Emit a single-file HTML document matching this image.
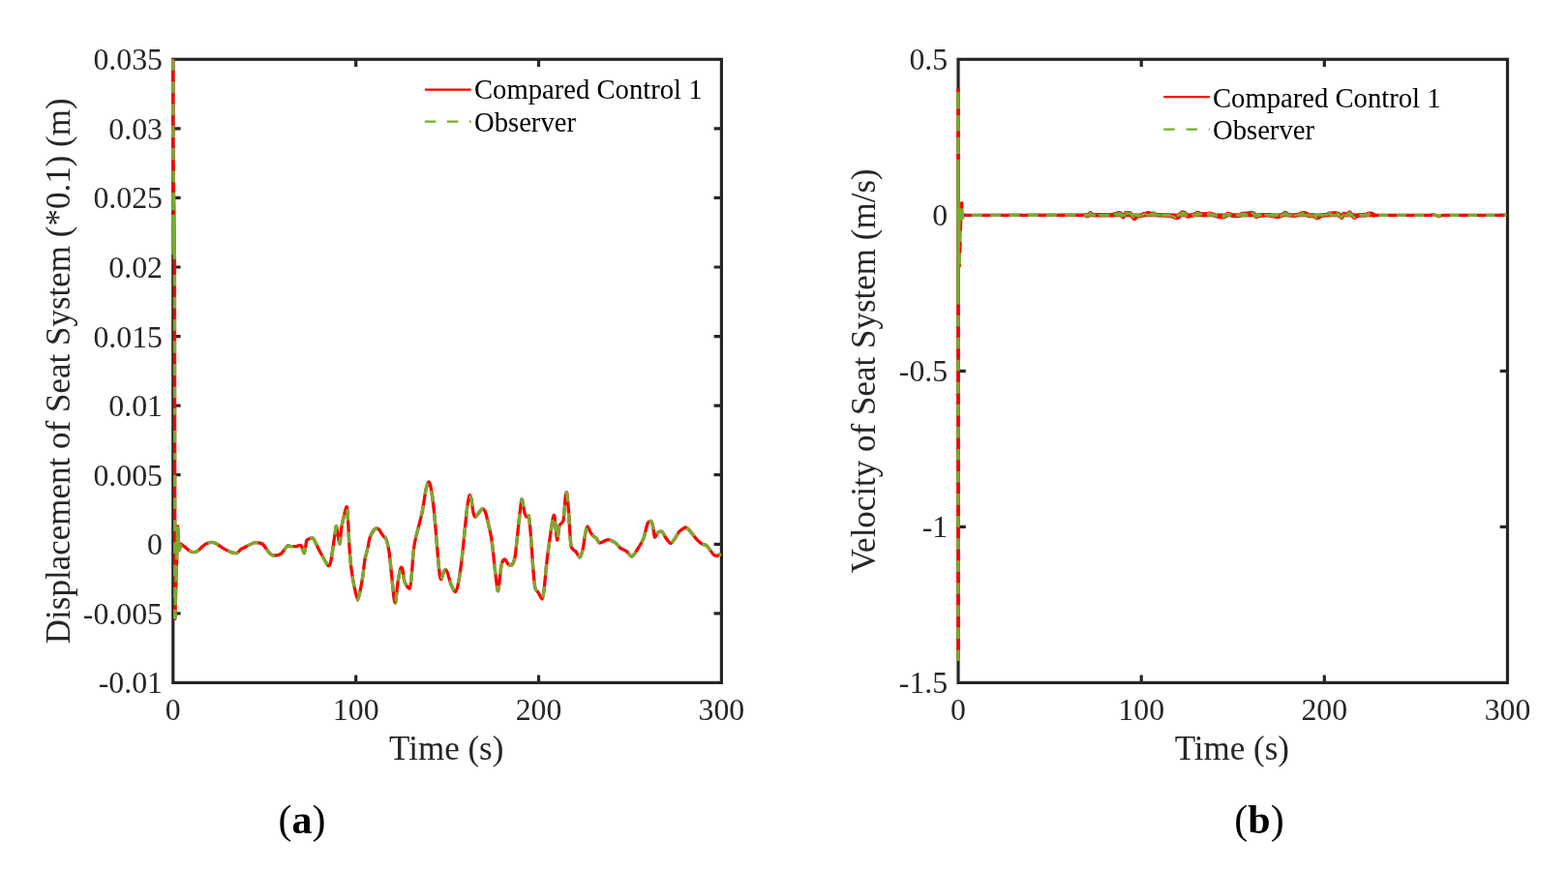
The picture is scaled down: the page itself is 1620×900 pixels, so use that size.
<!DOCTYPE html>
<html lang="en"><head><meta charset="utf-8"><title>Figure</title>
<style>
html,body{margin:0;padding:0;background:#fff;}
body{width:1620px;height:900px;overflow:hidden;}
svg{display:block;}
text{font-family:"Liberation Serif",serif;fill:#262626;}
.t{font-size:31.8px;}
.l{font-size:35px;}
.g{font-size:28.65px;fill:#000;}
.c{font-size:42px;fill:#000;}
</style></head><body>
<svg width="1620" height="900" viewBox="0 0 1620 900">
<rect width="1620" height="900" fill="#fff"/>
<g id="plot-a">
<rect x="178.8" y="61.3" width="566.5999999999999" height="644.1" fill="none" stroke="#262626" stroke-width="3.2"/>
<path d="M367.7 705.4v-7.8M367.7 61.3v7.8" stroke="#262626" stroke-width="3.2"/>
<path d="M556.5 705.4v-7.8M556.5 61.3v7.8" stroke="#262626" stroke-width="3.2"/>
<path d="M178.8 132.9h7.8M745.4 132.9h-7.8" stroke="#262626" stroke-width="3.2"/>
<path d="M178.8 204.4h7.8M745.4 204.4h-7.8" stroke="#262626" stroke-width="3.2"/>
<path d="M178.8 276.0h7.8M745.4 276.0h-7.8" stroke="#262626" stroke-width="3.2"/>
<path d="M178.8 347.6h7.8M745.4 347.6h-7.8" stroke="#262626" stroke-width="3.2"/>
<path d="M178.8 419.1h7.8M745.4 419.1h-7.8" stroke="#262626" stroke-width="3.2"/>
<path d="M178.8 490.7h7.8M745.4 490.7h-7.8" stroke="#262626" stroke-width="3.2"/>
<path d="M178.8 562.3h7.8M745.4 562.3h-7.8" stroke="#262626" stroke-width="3.2"/>
<path d="M178.8 633.8h7.8M745.4 633.8h-7.8" stroke="#262626" stroke-width="3.2"/>
<path d="M178.8 61 L178.8 150 L180.4 265 L180.8 639.4L180.8 639.4 L183.6 544 L185 568.7L185 568.7C185.2 568.0 186.8 563.1 187 562.4C187.2 561.7 186.7 562.2 187.0 562.4C187.3 562.6 188.9 563.6 190.0 564.4C191.1 565.2 194.8 568.7 196.0 569.4C197.2 570.1 199.1 570.6 200.0 570.6C200.9 570.6 202.6 570.4 204.0 569.4C205.4 568.4 210.4 563.4 212.0 562.4C213.6 561.4 216.7 560.5 218.0 560.4C219.3 560.3 221.4 560.8 223.0 561.6C224.6 562.4 230.1 566.4 232.0 567.4C233.9 568.4 237.5 570.1 239.0 570.6C240.5 571.1 243.8 571.8 245.0 571.4C246.2 571.0 248.2 568.0 249.0 567.4C249.8 566.8 250.5 566.7 252.0 566.0C253.5 565.3 260.1 561.6 262.0 561.0C263.9 560.4 266.8 560.8 268.0 561.0C269.2 561.2 270.7 561.7 272.0 563.0C273.3 564.3 277.7 570.7 279.0 572.0C280.3 573.3 281.7 574.0 283.0 574.0C284.3 574.0 288.4 573.6 290.0 572.4C291.6 571.2 295.8 564.9 297.0 564.0C298.2 563.1 298.9 564.5 300.0 564.6C301.1 564.7 304.7 564.7 306.0 564.6C307.3 564.5 310.0 562.8 311.0 563.6C312.0 564.4 313.7 572.1 314.4 571.6C315.1 571.1 316.2 560.7 316.6 559.0C317.0 557.3 317.2 557.7 318.0 557.4C318.8 557.1 322.2 555.0 323.6 556.4C325.0 557.8 328.2 565.7 330.0 569.0C331.8 572.3 337.6 583.2 339.0 584.4C340.4 585.6 341.2 582.8 342.0 579.0C342.8 575.2 345.3 556.1 346.0 552.0C346.7 547.9 347.0 542.8 347.6 544.0C348.2 545.2 350.4 562.0 351.0 562.0C351.6 562.0 352.2 548.5 353.0 544.0C353.8 539.5 357.2 524.3 358.0 523.6C358.8 522.9 359.2 533.1 359.6 538.0C360.0 542.9 360.6 560.2 361.0 566.0C361.4 571.8 362.4 583.3 363.0 588.0C363.6 592.7 365.2 602.3 366.0 606.0C366.8 609.7 368.8 620.0 369.6 620.0C370.4 620.0 372.4 609.0 373.0 606.0C373.6 603.0 374.5 597.3 375.0 594.0C375.5 590.7 376.4 581.3 377.0 578.0C377.6 574.7 379.4 568.6 380.0 566.0C380.6 563.4 381.2 558.2 382.0 556.0C382.8 553.8 385.9 548.1 387.0 547.0C388.1 545.9 389.9 545.8 391.0 546.6C392.1 547.4 395.1 552.8 396.0 554.0C396.9 555.2 398.3 555.1 399.0 557.0C399.7 558.9 401.3 565.2 402.0 570.0C402.7 574.8 404.4 592.4 405.0 598.0C405.6 603.6 406.6 615.2 407.0 618.0C407.4 620.8 408.1 624.3 408.6 622.4C409.1 620.5 410.4 606.0 411.0 602.0C411.6 598.0 413.1 589.8 413.6 588.0C414.1 586.2 415.1 585.5 415.6 587.0C416.1 588.5 417.1 598.5 418.0 601.0C418.9 603.5 422.2 608.8 423.0 608.4C423.8 608.0 424.5 602.2 425.0 598.0C425.5 593.8 426.5 576.7 427.0 572.0C427.5 567.3 427.9 562.9 429.0 558.0C430.1 553.1 434.7 536.1 436.0 530.0C437.3 523.9 439.2 509.7 440.0 506.0C440.8 502.3 442.3 498.0 443.0 498.0C443.7 498.0 444.9 501.8 445.6 506.0C446.3 510.2 448.3 526.5 449.0 534.0C449.7 541.5 451.4 562.9 452.0 570.0C452.6 577.1 453.9 591.7 454.4 595.0C454.9 598.3 455.6 598.8 456.0 598.4C456.4 598.0 457.5 593.2 458.0 592.0C458.5 590.8 459.5 588.4 460.0 588.4C460.5 588.4 461.7 590.2 462.4 592.0C463.1 593.8 465.0 601.7 466.0 604.0C467.0 606.3 469.7 612.1 470.6 611.6C471.5 611.1 473.1 604.9 474.0 600.0C474.9 595.1 477.1 578.2 478.0 570.0C478.9 561.8 481.2 536.8 482.0 530.0C482.8 523.2 484.4 513.6 485.0 512.0C485.6 510.4 486.5 513.9 487.0 516.0C487.5 518.1 488.5 527.9 489.0 530.0C489.5 532.1 490.5 534.4 491.4 534.0C492.3 533.6 496.0 527.9 497.0 527.0C498.0 526.1 499.4 526.0 500.0 526.6C500.6 527.2 501.5 528.3 502.4 532.0C503.3 535.7 506.9 550.8 508.0 558.0C509.1 565.2 511.2 587.9 512.0 594.0C512.8 600.1 513.9 611.8 514.6 610.6C515.3 609.4 517.2 587.8 518.0 584.0C518.8 580.2 520.8 578.1 521.6 578.0C522.4 577.9 524.2 582.3 525.0 583.0C525.8 583.7 527.8 584.8 528.6 584.0C529.4 583.2 531.1 581.1 532.0 576.0C532.9 570.9 535.2 547.0 536.0 540.0C536.8 533.0 538.3 517.2 539.0 516.0C539.7 514.8 541.4 527.9 542.0 530.0C542.6 532.1 543.5 533.6 544.0 534.0C544.5 534.4 545.9 531.0 546.4 533.6C546.9 536.2 548.1 549.4 548.6 556.0C549.1 562.6 550.5 583.9 551.0 590.0C551.5 596.1 552.4 605.4 553.0 608.0C553.6 610.6 555.2 610.7 556.0 612.0C556.8 613.3 559.3 619.2 560.0 619.0C560.7 618.8 561.4 614.5 562.0 610.0C562.6 605.5 564.2 587.0 565.0 580.0C565.8 573.0 568.2 555.4 569.0 550.0C569.8 544.6 571.1 535.9 571.6 534.0C572.1 532.1 572.5 531.2 573.0 534.0C573.5 536.8 575.0 557.0 575.6 558.0C576.2 559.0 577.3 545.3 578.0 543.0C578.7 540.7 581.3 541.1 582.0 538.0C582.7 534.9 583.6 519.4 584.0 516.0C584.4 512.6 585.2 507.4 585.6 509.0C586.0 510.6 587.1 523.6 587.6 530.0C588.1 536.4 589.1 559.3 590.0 564.0C590.9 568.7 594.0 568.6 595.0 570.0C596.0 571.4 598.2 576.2 599.0 576.0C599.8 575.8 601.3 571.0 602.0 568.0C602.7 565.0 604.4 552.8 605.0 550.0C605.6 547.2 606.4 544.0 607.0 544.0C607.6 544.0 609.3 548.8 610.0 550.0C610.7 551.2 612.3 553.3 613.0 554.0C613.7 554.7 615.2 555.2 616.0 556.0C616.8 556.8 618.2 560.8 619.6 561.0C621.0 561.2 626.1 557.6 628.0 557.6C629.9 557.6 634.5 560.0 636.0 561.0C637.5 562.0 639.7 565.4 641.0 566.4C642.3 567.4 645.6 568.4 647.0 569.4C648.4 570.4 651.6 575.3 653.0 575.0C654.4 574.7 657.6 569.2 659.0 567.0C660.4 564.8 663.8 559.0 665.0 556.0C666.2 553.0 668.1 543.1 669.0 541.0C669.9 538.9 671.8 538.2 672.4 538.4C673.0 538.6 673.9 541.1 674.4 543.0C674.9 544.9 675.8 554.1 676.4 555.0C677.0 555.9 678.7 551.1 679.6 550.4C680.5 549.7 683.0 548.7 684.0 549.4C685.0 550.1 687.0 554.6 688.0 556.0C689.0 557.4 692.0 561.5 693.0 561.6C694.0 561.7 696.0 558.5 697.0 557.0C698.0 555.5 700.7 550.4 702.0 549.0C703.3 547.6 707.2 545.2 708.4 545.0C709.6 544.8 710.6 546.1 712.0 547.6C713.4 549.1 718.4 555.9 720.0 557.6C721.6 559.3 724.8 561.7 726.0 562.4C727.2 563.1 728.6 562.3 730.0 563.6C731.4 564.9 736.2 572.4 737.6 573.6C739.0 574.8 741.1 574.1 742.0 574.0C742.9 573.9 744.6 572.6 745.0 572.4" fill="none" stroke="#ff0000" stroke-width="3.3" stroke-linejoin="round"/>
<path d="M178.9 199V217.2M178.9 221.7V263M178.80 61.2L178.80 72.8M178.80 84.3L178.80 95.9M178.80 107.5L178.80 119M178.80 129.7L178.80 142M178.84 153L179.01 165.3M179.17 176.4L179.33 188.3M179.48 199L179.73 217.2M179.80 221.7L180.40 267.9M180.42 283.9L180.43 295.4M180.44 307L180.46 318.6M180.47 330L180.48 341.7M180.49 352.3L180.51 364.8M180.52 376.3L180.53 387.9M180.54 399.4L180.56 411M180.57 421.7L180.58 428.8M180.59 444.8L180.61 457.2M180.62 467.9L180.62 475M180.64 491L180.65 502.7M180.67 514.2L180.68 525.8M180.69 537.3L180.70 549" fill="none" stroke="#77ac30" stroke-width="3.3"/>
<path d="M180.70 549L180.8 639.4" fill="none" stroke="#77ac30" stroke-width="3.3" stroke-dasharray="11.6 11.5" stroke-dashoffset="11.6"/>
<path d="M180.8 639.4L183.6 544" fill="none" stroke="#77ac30" stroke-width="3.3" stroke-dasharray="7 7 18 6 17 6 60"/>
<path d="M183.6 544L185 568.7L187 562.4" fill="none" stroke="#77ac30" stroke-width="3.3" stroke-linejoin="round"/>
<path d="M183.6 544 L185 568.7L185 568.7C185.2 568.0 186.8 563.1 187 562.4C187.2 561.7 186.7 562.2 187.0 562.4C187.3 562.6 188.9 563.6 190.0 564.4C191.1 565.2 194.8 568.7 196.0 569.4C197.2 570.1 199.1 570.6 200.0 570.6C200.9 570.6 202.6 570.4 204.0 569.4C205.4 568.4 210.4 563.4 212.0 562.4C213.6 561.4 216.7 560.5 218.0 560.4C219.3 560.3 221.4 560.8 223.0 561.6C224.6 562.4 230.1 566.4 232.0 567.4C233.9 568.4 237.5 570.1 239.0 570.6C240.5 571.1 243.8 571.8 245.0 571.4C246.2 571.0 248.2 568.0 249.0 567.4C249.8 566.8 250.5 566.7 252.0 566.0C253.5 565.3 260.1 561.6 262.0 561.0C263.9 560.4 266.8 560.8 268.0 561.0C269.2 561.2 270.7 561.7 272.0 563.0C273.3 564.3 277.7 570.7 279.0 572.0C280.3 573.3 281.7 574.0 283.0 574.0C284.3 574.0 288.4 573.6 290.0 572.4C291.6 571.2 295.8 564.9 297.0 564.0C298.2 563.1 298.9 564.5 300.0 564.6C301.1 564.7 304.7 564.7 306.0 564.6C307.3 564.5 310.0 562.8 311.0 563.6C312.0 564.4 313.7 572.1 314.4 571.6C315.1 571.1 316.2 560.7 316.6 559.0C317.0 557.3 317.2 557.7 318.0 557.4C318.8 557.1 322.2 555.0 323.6 556.4C325.0 557.8 328.2 565.7 330.0 569.0C331.8 572.3 337.6 583.2 339.0 584.4C340.4 585.6 341.2 582.8 342.0 579.0C342.8 575.2 345.3 556.1 346.0 552.0C346.7 547.9 347.0 542.8 347.6 544.0C348.2 545.2 350.4 562.0 351.0 562.0C351.6 562.0 352.2 548.5 353.0 544.0C353.8 539.5 357.2 524.3 358.0 523.6C358.8 522.9 359.2 533.1 359.6 538.0C360.0 542.9 360.6 560.2 361.0 566.0C361.4 571.8 362.4 583.3 363.0 588.0C363.6 592.7 365.2 602.3 366.0 606.0C366.8 609.7 368.8 620.0 369.6 620.0C370.4 620.0 372.4 609.0 373.0 606.0C373.6 603.0 374.5 597.3 375.0 594.0C375.5 590.7 376.4 581.3 377.0 578.0C377.6 574.7 379.4 568.6 380.0 566.0C380.6 563.4 381.2 558.2 382.0 556.0C382.8 553.8 385.9 548.1 387.0 547.0C388.1 545.9 389.9 545.8 391.0 546.6C392.1 547.4 395.1 552.8 396.0 554.0C396.9 555.2 398.3 555.1 399.0 557.0C399.7 558.9 401.3 565.2 402.0 570.0C402.7 574.8 404.4 592.4 405.0 598.0C405.6 603.6 406.6 615.2 407.0 618.0C407.4 620.8 408.1 624.3 408.6 622.4C409.1 620.5 410.4 606.0 411.0 602.0C411.6 598.0 413.1 589.8 413.6 588.0C414.1 586.2 415.1 585.5 415.6 587.0C416.1 588.5 417.1 598.5 418.0 601.0C418.9 603.5 422.2 608.8 423.0 608.4C423.8 608.0 424.5 602.2 425.0 598.0C425.5 593.8 426.5 576.7 427.0 572.0C427.5 567.3 427.9 562.9 429.0 558.0C430.1 553.1 434.7 536.1 436.0 530.0C437.3 523.9 439.2 509.7 440.0 506.0C440.8 502.3 442.3 498.0 443.0 498.0C443.7 498.0 444.9 501.8 445.6 506.0C446.3 510.2 448.3 526.5 449.0 534.0C449.7 541.5 451.4 562.9 452.0 570.0C452.6 577.1 453.9 591.7 454.4 595.0C454.9 598.3 455.6 598.8 456.0 598.4C456.4 598.0 457.5 593.2 458.0 592.0C458.5 590.8 459.5 588.4 460.0 588.4C460.5 588.4 461.7 590.2 462.4 592.0C463.1 593.8 465.0 601.7 466.0 604.0C467.0 606.3 469.7 612.1 470.6 611.6C471.5 611.1 473.1 604.9 474.0 600.0C474.9 595.1 477.1 578.2 478.0 570.0C478.9 561.8 481.2 536.8 482.0 530.0C482.8 523.2 484.4 513.6 485.0 512.0C485.6 510.4 486.5 513.9 487.0 516.0C487.5 518.1 488.5 527.9 489.0 530.0C489.5 532.1 490.5 534.4 491.4 534.0C492.3 533.6 496.0 527.9 497.0 527.0C498.0 526.1 499.4 526.0 500.0 526.6C500.6 527.2 501.5 528.3 502.4 532.0C503.3 535.7 506.9 550.8 508.0 558.0C509.1 565.2 511.2 587.9 512.0 594.0C512.8 600.1 513.9 611.8 514.6 610.6C515.3 609.4 517.2 587.8 518.0 584.0C518.8 580.2 520.8 578.1 521.6 578.0C522.4 577.9 524.2 582.3 525.0 583.0C525.8 583.7 527.8 584.8 528.6 584.0C529.4 583.2 531.1 581.1 532.0 576.0C532.9 570.9 535.2 547.0 536.0 540.0C536.8 533.0 538.3 517.2 539.0 516.0C539.7 514.8 541.4 527.9 542.0 530.0C542.6 532.1 543.5 533.6 544.0 534.0C544.5 534.4 545.9 531.0 546.4 533.6C546.9 536.2 548.1 549.4 548.6 556.0C549.1 562.6 550.5 583.9 551.0 590.0C551.5 596.1 552.4 605.4 553.0 608.0C553.6 610.6 555.2 610.7 556.0 612.0C556.8 613.3 559.3 619.2 560.0 619.0C560.7 618.8 561.4 614.5 562.0 610.0C562.6 605.5 564.2 587.0 565.0 580.0C565.8 573.0 568.2 555.4 569.0 550.0C569.8 544.6 571.1 535.9 571.6 534.0C572.1 532.1 572.5 531.2 573.0 534.0C573.5 536.8 575.0 557.0 575.6 558.0C576.2 559.0 577.3 545.3 578.0 543.0C578.7 540.7 581.3 541.1 582.0 538.0C582.7 534.9 583.6 519.4 584.0 516.0C584.4 512.6 585.2 507.4 585.6 509.0C586.0 510.6 587.1 523.6 587.6 530.0C588.1 536.4 589.1 559.3 590.0 564.0C590.9 568.7 594.0 568.6 595.0 570.0C596.0 571.4 598.2 576.2 599.0 576.0C599.8 575.8 601.3 571.0 602.0 568.0C602.7 565.0 604.4 552.8 605.0 550.0C605.6 547.2 606.4 544.0 607.0 544.0C607.6 544.0 609.3 548.8 610.0 550.0C610.7 551.2 612.3 553.3 613.0 554.0C613.7 554.7 615.2 555.2 616.0 556.0C616.8 556.8 618.2 560.8 619.6 561.0C621.0 561.2 626.1 557.6 628.0 557.6C629.9 557.6 634.5 560.0 636.0 561.0C637.5 562.0 639.7 565.4 641.0 566.4C642.3 567.4 645.6 568.4 647.0 569.4C648.4 570.4 651.6 575.3 653.0 575.0C654.4 574.7 657.6 569.2 659.0 567.0C660.4 564.8 663.8 559.0 665.0 556.0C666.2 553.0 668.1 543.1 669.0 541.0C669.9 538.9 671.8 538.2 672.4 538.4C673.0 538.6 673.9 541.1 674.4 543.0C674.9 544.9 675.8 554.1 676.4 555.0C677.0 555.9 678.7 551.1 679.6 550.4C680.5 549.7 683.0 548.7 684.0 549.4C685.0 550.1 687.0 554.6 688.0 556.0C689.0 557.4 692.0 561.5 693.0 561.6C694.0 561.7 696.0 558.5 697.0 557.0C698.0 555.5 700.7 550.4 702.0 549.0C703.3 547.6 707.2 545.2 708.4 545.0C709.6 544.8 710.6 546.1 712.0 547.6C713.4 549.1 718.4 555.9 720.0 557.6C721.6 559.3 724.8 561.7 726.0 562.4C727.2 563.1 728.6 562.3 730.0 563.6C731.4 564.9 736.2 572.4 737.6 573.6C739.0 574.8 741.1 574.1 742.0 574.0C742.9 573.9 744.6 572.6 745.0 572.4" fill="none" stroke="#77ac30" stroke-width="3.3" stroke-linejoin="round" stroke-dasharray="11.6 11.5" stroke-dashoffset="3.95"/>
<text class="t" x="168" y="72.3" text-anchor="end">0.035</text>
<text class="t" x="168" y="143.9" text-anchor="end">0.03</text>
<text class="t" x="168" y="215.4" text-anchor="end">0.025</text>
<text class="t" x="168" y="287.0" text-anchor="end">0.02</text>
<text class="t" x="168" y="358.6" text-anchor="end">0.015</text>
<text class="t" x="168" y="430.1" text-anchor="end">0.01</text>
<text class="t" x="168" y="501.7" text-anchor="end">0.005</text>
<text class="t" x="168" y="573.3" text-anchor="end">0</text>
<text class="t" x="168" y="644.8" text-anchor="end">-0.005</text>
<text class="t" x="168" y="716.4" text-anchor="end">-0.01</text>
<text class="t" x="178.8" y="744.4" text-anchor="middle">0</text>
<text class="t" x="367.7" y="744.4" text-anchor="middle">100</text>
<text class="t" x="556.5" y="744.4" text-anchor="middle">200</text>
<text class="t" x="745.4" y="744.4" text-anchor="middle">300</text>
<text class="l" x="461.2" y="784.8" text-anchor="middle">Time (s)</text>
<text class="l" transform="translate(72.2 383.3) rotate(-90)" text-anchor="middle">Displacement of Seat System (*0.1) (m)</text>
<path d="M438.9 92.7H486.7" stroke="#ff0000" stroke-width="2.3"/>
<path d="M438.9 125.6H486.7" stroke="#77ac30" stroke-width="2.3" stroke-dasharray="11.4 11.6"/>
<text class="g" x="490" y="102.2">Compared Control 1</text>
<text class="g" x="490" y="135.5">Observer</text>
<text class="c" x="312" y="861.3" text-anchor="middle">(<tspan font-weight="bold">a</tspan>)</text>
</g>
<g id="plot-b">
<rect x="990" y="61.3" width="567.5" height="644.1" fill="none" stroke="#262626" stroke-width="3.2"/>
<path d="M1179.2 705.4v-7.8M1179.2 61.3v7.8" stroke="#262626" stroke-width="3.2"/>
<path d="M1368.3 705.4v-7.8M1368.3 61.3v7.8" stroke="#262626" stroke-width="3.2"/>
<path d="M990 222.3h7.8M1557.5 222.3h-7.8" stroke="#262626" stroke-width="3.2"/>
<path d="M990 383.4h7.8M1557.5 383.4h-7.8" stroke="#262626" stroke-width="3.2"/>
<path d="M990 544.4h7.8M1557.5 544.4h-7.8" stroke="#262626" stroke-width="3.2"/>
<path d="M990 91.5V683" stroke="#ff0000" stroke-width="3.4"/>
<path d="M993.7 216V209.6" stroke="#ff0000" stroke-width="3.3" stroke-linecap="round"/>
<path d="M996.5 222.3 L1121.1 222.2L1121.1 222.2C1121.4 222.3 1123.1 223.4 1123.7 223.2C1124.3 223.0 1126.2 220.3 1126.7 220.2C1127.2 220.1 1127.7 221.7 1128.5 221.9C1129.3 222.1 1132.7 222.2 1134.4 222.2C1136.1 222.2 1144.0 222.2 1145.6 222.2C1147.2 222.2 1149.4 222.1 1150.4 221.9C1151.4 221.7 1155.1 220.3 1155.9 220.2C1156.7 220.1 1157.6 220.6 1158.1 221.0C1158.5 221.4 1159.9 224.4 1160.4 224.3C1160.9 224.2 1162.8 220.2 1163.3 219.9C1163.8 219.6 1164.8 221.0 1165.2 221.0C1165.6 221.0 1166.6 220.0 1167.0 220.2C1167.4 220.4 1168.8 222.2 1169.3 222.8C1169.8 223.4 1171.4 226.1 1171.9 226.2C1172.4 226.3 1173.9 223.9 1174.4 223.6C1174.9 223.3 1176.2 223.3 1176.7 223.2C1177.2 223.1 1179.1 223.0 1179.6 222.8C1180.1 222.6 1181.5 221.2 1181.9 221.0C1182.4 220.8 1183.7 221.4 1184.1 221.3C1184.5 221.2 1185.9 219.9 1186.3 219.9C1186.7 219.9 1188.0 220.9 1188.5 221.0C1189.0 221.1 1191.0 220.5 1191.5 220.6C1192.0 220.7 1193.2 221.5 1193.7 221.7C1194.2 221.9 1195.6 222.1 1196.7 222.2C1197.8 222.3 1203.6 222.3 1204.8 222.4C1206.0 222.5 1207.8 222.5 1208.5 222.7C1209.2 222.8 1211.5 223.7 1212.2 223.9C1212.9 224.1 1214.6 225.0 1215.2 225.0C1215.8 225.0 1217.7 224.3 1218.1 223.9C1218.5 223.5 1219.2 221.4 1219.6 221.0C1220.0 220.6 1221.4 219.5 1221.9 219.5C1222.4 219.5 1224.3 220.6 1224.8 221.0C1225.3 221.4 1226.5 223.4 1227.0 223.6C1227.5 223.8 1229.3 223.0 1230.0 222.8C1230.7 222.6 1233.0 222.0 1233.7 221.7C1234.4 221.4 1236.7 220.0 1237.4 219.9C1238.1 219.8 1239.7 220.8 1240.4 221.0C1241.1 221.2 1243.8 221.5 1244.8 221.5C1245.8 221.5 1249.1 220.6 1250.0 220.6C1250.9 220.6 1253.0 221.6 1253.7 221.9C1254.4 222.2 1255.7 222.9 1256.7 223.2C1257.7 223.4 1262.3 224.4 1263.3 224.4C1264.3 224.4 1265.8 223.5 1266.3 223.2C1266.8 222.9 1268.0 221.2 1268.5 221.0C1269.0 220.8 1271.0 221.5 1271.5 221.7C1272.0 221.9 1272.7 222.6 1273.7 222.7C1274.7 222.8 1280.1 222.9 1281.1 222.7C1282.1 222.5 1282.5 221.2 1283.3 221.0C1284.1 220.8 1288.3 220.7 1289.3 220.6C1290.3 220.5 1292.3 219.8 1293.0 219.9C1293.7 220.0 1295.4 220.9 1295.9 221.3C1296.4 221.7 1297.6 223.8 1298.1 223.9C1298.5 224.0 1299.5 222.9 1300.4 222.7C1301.3 222.5 1306.0 222.2 1307.0 222.1C1308.0 222.0 1309.3 222.1 1310.0 222.2C1310.7 222.3 1312.7 222.6 1313.7 222.8C1314.7 223.0 1319.3 223.9 1320.4 223.9C1321.5 223.9 1324.1 222.8 1324.8 222.4C1325.5 222.0 1327.3 220.0 1327.8 219.9C1328.3 219.8 1329.4 221.4 1330.0 221.7C1330.6 221.9 1332.7 222.3 1333.7 222.4C1334.7 222.5 1338.7 222.5 1339.6 222.4C1340.5 222.3 1341.9 221.5 1342.6 221.3C1343.3 221.1 1345.6 220.2 1346.3 220.2C1347.0 220.2 1349.4 220.7 1350.0 221.0C1350.6 221.3 1351.6 223.1 1352.2 223.2C1352.8 223.3 1355.3 222.4 1355.9 222.4C1356.5 222.4 1357.6 223.3 1358.1 223.6C1358.6 223.9 1360.5 225.4 1361.1 225.4C1361.7 225.4 1363.4 223.5 1364.1 223.2C1364.8 222.9 1367.1 222.6 1367.8 222.4C1368.5 222.2 1370.9 221.9 1371.5 221.7C1372.1 221.5 1372.6 220.7 1373.7 220.6C1374.8 220.5 1381.5 220.4 1382.6 220.7C1383.7 221.0 1384.0 223.2 1384.4 223.6C1384.8 224.0 1385.9 225.0 1386.3 224.7C1386.7 224.4 1387.6 221.3 1388.1 221.0C1388.6 220.7 1390.9 222.2 1391.5 222.1C1392.1 221.9 1393.9 219.5 1394.4 219.5C1394.9 219.5 1396.2 221.6 1396.7 222.1C1397.2 222.6 1398.4 224.6 1398.9 224.7C1399.4 224.8 1401.3 223.4 1401.9 223.2C1402.5 223.0 1403.9 222.5 1404.8 222.4C1405.7 222.3 1409.9 222.5 1410.7 222.4C1411.5 222.3 1412.4 221.2 1413.0 221.0C1413.6 220.8 1416.0 220.6 1416.7 220.7C1417.4 220.8 1419.3 222.2 1419.6 222.4L1419.6 222.4 L1478 222.3 L1481 221.6 L1487 223.6 L1491 222.3 L1556.5 222.3" fill="none" stroke="#ff0000" stroke-width="3.3" stroke-linejoin="round"/>
<path d="M1121.1 222.3H1419.6" fill="none" stroke="#ff0000" stroke-width="3.7"/>
<path d="M1121.1 222.2C1121.4 222.3 1123.1 223.4 1123.7 223.2C1124.3 223.0 1126.2 220.3 1126.7 220.2C1127.2 220.1 1127.7 221.7 1128.5 221.9C1129.3 222.1 1132.7 222.2 1134.4 222.2C1136.1 222.2 1144.0 222.2 1145.6 222.2C1147.2 222.2 1149.4 222.1 1150.4 221.9C1151.4 221.7 1155.1 220.3 1155.9 220.2C1156.7 220.1 1157.6 220.6 1158.1 221.0C1158.5 221.4 1159.9 224.4 1160.4 224.3C1160.9 224.2 1162.8 220.2 1163.3 219.9C1163.8 219.6 1164.8 221.0 1165.2 221.0C1165.6 221.0 1166.6 220.0 1167.0 220.2C1167.4 220.4 1168.8 222.2 1169.3 222.8C1169.8 223.4 1171.4 226.1 1171.9 226.2C1172.4 226.3 1173.9 223.9 1174.4 223.6C1174.9 223.3 1176.2 223.3 1176.7 223.2C1177.2 223.1 1179.1 223.0 1179.6 222.8C1180.1 222.6 1181.5 221.2 1181.9 221.0C1182.4 220.8 1183.7 221.4 1184.1 221.3C1184.5 221.2 1185.9 219.9 1186.3 219.9C1186.7 219.9 1188.0 220.9 1188.5 221.0C1189.0 221.1 1191.0 220.5 1191.5 220.6C1192.0 220.7 1193.2 221.5 1193.7 221.7C1194.2 221.9 1195.6 222.1 1196.7 222.2C1197.8 222.3 1203.6 222.3 1204.8 222.4C1206.0 222.5 1207.8 222.5 1208.5 222.7C1209.2 222.8 1211.5 223.7 1212.2 223.9C1212.9 224.1 1214.6 225.0 1215.2 225.0C1215.8 225.0 1217.7 224.3 1218.1 223.9C1218.5 223.5 1219.2 221.4 1219.6 221.0C1220.0 220.6 1221.4 219.5 1221.9 219.5C1222.4 219.5 1224.3 220.6 1224.8 221.0C1225.3 221.4 1226.5 223.4 1227.0 223.6C1227.5 223.8 1229.3 223.0 1230.0 222.8C1230.7 222.6 1233.0 222.0 1233.7 221.7C1234.4 221.4 1236.7 220.0 1237.4 219.9C1238.1 219.8 1239.7 220.8 1240.4 221.0C1241.1 221.2 1243.8 221.5 1244.8 221.5C1245.8 221.5 1249.1 220.6 1250.0 220.6C1250.9 220.6 1253.0 221.6 1253.7 221.9C1254.4 222.2 1255.7 222.9 1256.7 223.2C1257.7 223.4 1262.3 224.4 1263.3 224.4C1264.3 224.4 1265.8 223.5 1266.3 223.2C1266.8 222.9 1268.0 221.2 1268.5 221.0C1269.0 220.8 1271.0 221.5 1271.5 221.7C1272.0 221.9 1272.7 222.6 1273.7 222.7C1274.7 222.8 1280.1 222.9 1281.1 222.7C1282.1 222.5 1282.5 221.2 1283.3 221.0C1284.1 220.8 1288.3 220.7 1289.3 220.6C1290.3 220.5 1292.3 219.8 1293.0 219.9C1293.7 220.0 1295.4 220.9 1295.9 221.3C1296.4 221.7 1297.6 223.8 1298.1 223.9C1298.5 224.0 1299.5 222.9 1300.4 222.7C1301.3 222.5 1306.0 222.2 1307.0 222.1C1308.0 222.0 1309.3 222.1 1310.0 222.2C1310.7 222.3 1312.7 222.6 1313.7 222.8C1314.7 223.0 1319.3 223.9 1320.4 223.9C1321.5 223.9 1324.1 222.8 1324.8 222.4C1325.5 222.0 1327.3 220.0 1327.8 219.9C1328.3 219.8 1329.4 221.4 1330.0 221.7C1330.6 221.9 1332.7 222.3 1333.7 222.4C1334.7 222.5 1338.7 222.5 1339.6 222.4C1340.5 222.3 1341.9 221.5 1342.6 221.3C1343.3 221.1 1345.6 220.2 1346.3 220.2C1347.0 220.2 1349.4 220.7 1350.0 221.0C1350.6 221.3 1351.6 223.1 1352.2 223.2C1352.8 223.3 1355.3 222.4 1355.9 222.4C1356.5 222.4 1357.6 223.3 1358.1 223.6C1358.6 223.9 1360.5 225.4 1361.1 225.4C1361.7 225.4 1363.4 223.5 1364.1 223.2C1364.8 222.9 1367.1 222.6 1367.8 222.4C1368.5 222.2 1370.9 221.9 1371.5 221.7C1372.1 221.5 1372.6 220.7 1373.7 220.6C1374.8 220.5 1381.5 220.4 1382.6 220.7C1383.7 221.0 1384.0 223.2 1384.4 223.6C1384.8 224.0 1385.9 225.0 1386.3 224.7C1386.7 224.4 1387.6 221.3 1388.1 221.0C1388.6 220.7 1390.9 222.2 1391.5 222.1C1392.1 221.9 1393.9 219.5 1394.4 219.5C1394.9 219.5 1396.2 221.6 1396.7 222.1C1397.2 222.6 1398.4 224.6 1398.9 224.7C1399.4 224.8 1401.3 223.4 1401.9 223.2C1402.5 223.0 1403.9 222.5 1404.8 222.4C1405.7 222.3 1409.9 222.5 1410.7 222.4C1411.5 222.3 1412.4 221.2 1413.0 221.0C1413.6 220.8 1416.0 220.6 1416.7 220.7C1417.4 220.8 1419.3 222.2 1419.6 222.4" fill="none" stroke="#ff0000" stroke-width="4.3" stroke-linejoin="round" stroke-linecap="round"/>
<path d="M990 95.2V112.6M990 118.9V135.6M990 141.7V159M990 164.7V314.6" stroke="#77ac30" stroke-width="3.4"/>
<path d="M990 683V314" stroke="#77ac30" stroke-width="3.4" stroke-dasharray="11.6 11.45"/>
<path d="M991 222L994.2 226.5L992.7 275.5L991 276.5Z" fill="#77ac30"/>
<path d="M993.5 227.5L993.2 238.5M992.7 250L992.4 261.5M992.3 273.5L992.1 275.5" stroke="#ff0000" stroke-width="1.6"/>
<path d="M988.3 215.3H995.4L996.5 225.5L995 227.2H988.3Z" fill="#77ac30"/>
<path d="M996.5 222.3 L1121.1 222.2" fill="none" stroke="#77ac30" stroke-width="3.3" stroke-dasharray="10.8 8.5" stroke-dashoffset="-7.4"/>
<path d="M1121.1 222.3H1419.6" fill="none" stroke="#77ac30" stroke-width="2.9" stroke-dasharray="11 5 9 6.5"/>
<path d="M1121.1 222.2C1121.4 222.3 1123.1 223.4 1123.7 223.2C1124.3 223.0 1126.2 220.3 1126.7 220.2C1127.2 220.1 1127.7 221.7 1128.5 221.9C1129.3 222.1 1132.7 222.2 1134.4 222.2C1136.1 222.2 1144.0 222.2 1145.6 222.2C1147.2 222.2 1149.4 222.1 1150.4 221.9C1151.4 221.7 1155.1 220.3 1155.9 220.2C1156.7 220.1 1157.6 220.6 1158.1 221.0C1158.5 221.4 1159.9 224.4 1160.4 224.3C1160.9 224.2 1162.8 220.2 1163.3 219.9C1163.8 219.6 1164.8 221.0 1165.2 221.0C1165.6 221.0 1166.6 220.0 1167.0 220.2C1167.4 220.4 1168.8 222.2 1169.3 222.8C1169.8 223.4 1171.4 226.1 1171.9 226.2C1172.4 226.3 1173.9 223.9 1174.4 223.6C1174.9 223.3 1176.2 223.3 1176.7 223.2C1177.2 223.1 1179.1 223.0 1179.6 222.8C1180.1 222.6 1181.5 221.2 1181.9 221.0C1182.4 220.8 1183.7 221.4 1184.1 221.3C1184.5 221.2 1185.9 219.9 1186.3 219.9C1186.7 219.9 1188.0 220.9 1188.5 221.0C1189.0 221.1 1191.0 220.5 1191.5 220.6C1192.0 220.7 1193.2 221.5 1193.7 221.7C1194.2 221.9 1195.6 222.1 1196.7 222.2C1197.8 222.3 1203.6 222.3 1204.8 222.4C1206.0 222.5 1207.8 222.5 1208.5 222.7C1209.2 222.8 1211.5 223.7 1212.2 223.9C1212.9 224.1 1214.6 225.0 1215.2 225.0C1215.8 225.0 1217.7 224.3 1218.1 223.9C1218.5 223.5 1219.2 221.4 1219.6 221.0C1220.0 220.6 1221.4 219.5 1221.9 219.5C1222.4 219.5 1224.3 220.6 1224.8 221.0C1225.3 221.4 1226.5 223.4 1227.0 223.6C1227.5 223.8 1229.3 223.0 1230.0 222.8C1230.7 222.6 1233.0 222.0 1233.7 221.7C1234.4 221.4 1236.7 220.0 1237.4 219.9C1238.1 219.8 1239.7 220.8 1240.4 221.0C1241.1 221.2 1243.8 221.5 1244.8 221.5C1245.8 221.5 1249.1 220.6 1250.0 220.6C1250.9 220.6 1253.0 221.6 1253.7 221.9C1254.4 222.2 1255.7 222.9 1256.7 223.2C1257.7 223.4 1262.3 224.4 1263.3 224.4C1264.3 224.4 1265.8 223.5 1266.3 223.2C1266.8 222.9 1268.0 221.2 1268.5 221.0C1269.0 220.8 1271.0 221.5 1271.5 221.7C1272.0 221.9 1272.7 222.6 1273.7 222.7C1274.7 222.8 1280.1 222.9 1281.1 222.7C1282.1 222.5 1282.5 221.2 1283.3 221.0C1284.1 220.8 1288.3 220.7 1289.3 220.6C1290.3 220.5 1292.3 219.8 1293.0 219.9C1293.7 220.0 1295.4 220.9 1295.9 221.3C1296.4 221.7 1297.6 223.8 1298.1 223.9C1298.5 224.0 1299.5 222.9 1300.4 222.7C1301.3 222.5 1306.0 222.2 1307.0 222.1C1308.0 222.0 1309.3 222.1 1310.0 222.2C1310.7 222.3 1312.7 222.6 1313.7 222.8C1314.7 223.0 1319.3 223.9 1320.4 223.9C1321.5 223.9 1324.1 222.8 1324.8 222.4C1325.5 222.0 1327.3 220.0 1327.8 219.9C1328.3 219.8 1329.4 221.4 1330.0 221.7C1330.6 221.9 1332.7 222.3 1333.7 222.4C1334.7 222.5 1338.7 222.5 1339.6 222.4C1340.5 222.3 1341.9 221.5 1342.6 221.3C1343.3 221.1 1345.6 220.2 1346.3 220.2C1347.0 220.2 1349.4 220.7 1350.0 221.0C1350.6 221.3 1351.6 223.1 1352.2 223.2C1352.8 223.3 1355.3 222.4 1355.9 222.4C1356.5 222.4 1357.6 223.3 1358.1 223.6C1358.6 223.9 1360.5 225.4 1361.1 225.4C1361.7 225.4 1363.4 223.5 1364.1 223.2C1364.8 222.9 1367.1 222.6 1367.8 222.4C1368.5 222.2 1370.9 221.9 1371.5 221.7C1372.1 221.5 1372.6 220.7 1373.7 220.6C1374.8 220.5 1381.5 220.4 1382.6 220.7C1383.7 221.0 1384.0 223.2 1384.4 223.6C1384.8 224.0 1385.9 225.0 1386.3 224.7C1386.7 224.4 1387.6 221.3 1388.1 221.0C1388.6 220.7 1390.9 222.2 1391.5 222.1C1392.1 221.9 1393.9 219.5 1394.4 219.5C1394.9 219.5 1396.2 221.6 1396.7 222.1C1397.2 222.6 1398.4 224.6 1398.9 224.7C1399.4 224.8 1401.3 223.4 1401.9 223.2C1402.5 223.0 1403.9 222.5 1404.8 222.4C1405.7 222.3 1409.9 222.5 1410.7 222.4C1411.5 222.3 1412.4 221.2 1413.0 221.0C1413.6 220.8 1416.0 220.6 1416.7 220.7C1417.4 220.8 1419.3 222.2 1419.6 222.4" fill="none" stroke="#77ac30" stroke-width="2.5" stroke-linejoin="round" stroke-dasharray="11.5 4.5"/>
<path d="M1419.6 222.4 L1478 222.3 L1481 221.6 L1487 223.6 L1491 222.3 L1556.5 222.3" fill="none" stroke="#77ac30" stroke-width="3.3" stroke-dasharray="9.5 9" stroke-dashoffset="-5"/>
<text class="t" x="979.2" y="72.3" text-anchor="end">0.5</text>
<text class="t" x="979.2" y="233.3" text-anchor="end">0</text>
<text class="t" x="979.2" y="394.4" text-anchor="end">-0.5</text>
<text class="t" x="979.2" y="555.4" text-anchor="end">-1</text>
<text class="t" x="979.2" y="716.4" text-anchor="end">-1.5</text>
<text class="t" x="990.0" y="744.4" text-anchor="middle">0</text>
<text class="t" x="1179.2" y="744.4" text-anchor="middle">100</text>
<text class="t" x="1368.3" y="744.4" text-anchor="middle">200</text>
<text class="t" x="1557.5" y="744.4" text-anchor="middle">300</text>
<text class="l" x="1272.8" y="784.8" text-anchor="middle">Time (s)</text>
<text class="l" transform="translate(903.8 383.3) rotate(-90)" text-anchor="middle">Velocity of Seat System (m/s)</text>
<path d="M1202.2 100.2H1249.8" stroke="#ff0000" stroke-width="2.3"/>
<path d="M1202.2 133.6H1249.8" stroke="#77ac30" stroke-width="2.3" stroke-dasharray="11.6 11.7"/>
<text class="g" x="1253" y="110.6">Compared Control 1</text>
<text class="g" x="1253" y="144">Observer</text>
<text class="c" x="1301" y="861.3" text-anchor="middle">(<tspan font-weight="bold">b</tspan>)</text>
</g>
</svg></body></html>
